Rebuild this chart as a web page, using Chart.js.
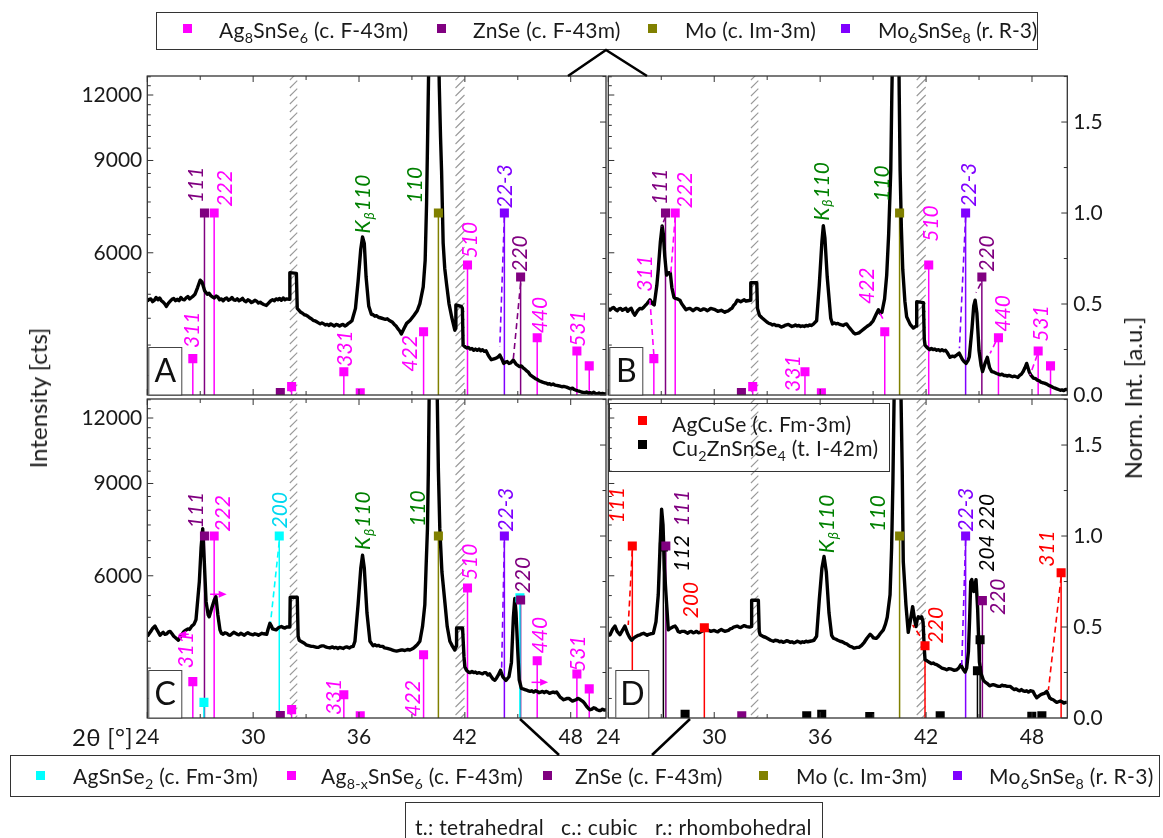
<!DOCTYPE html>
<html>
<head>
<meta charset="utf-8">
<script src="https://cdn.jsdelivr.net/npm/chart.js@4.4.1/dist/chart.umd.min.js"></script>
<style>
  html, body { margin: 0; padding: 0; background: #fff; }
  #page { position: relative; width: 1163px; height: 838px; overflow: hidden;
          font-family: Lato, "Open Sans", sans-serif; color: #1a1a1a; }
  canvas.panel { position: absolute; left: 0; top: 0; }
  .frame { position: absolute; border: 1.3px solid #333; box-sizing: border-box; }
  .lg { position: absolute; font-size: 21px; white-space: nowrap; line-height: 1; letter-spacing: 0.3px; }
  .lg sub { font-size: 0.68em; vertical-align: -0.35em; line-height: 0; }
  .sq { position: absolute; width: 9px; height: 9px; }
  .title { position: absolute; font-size: 24px; white-space: nowrap; line-height: 1;
           transform: translate(-50%, -50%) rotate(-90deg); }
  svg { position: absolute; left: 0; top: 0; }
</style>
</head>
<body>
<div id="page">
  <canvas class="panel" id="cA" width="1163" height="838"></canvas>
  <canvas class="panel" id="cB" width="1163" height="838"></canvas>
  <canvas class="panel" id="cC" width="1163" height="838"></canvas>
  <canvas class="panel" id="cD" width="1163" height="838"></canvas>

  <!-- phase legend above the panels -->
  <div class="frame" style="left:156px;top:12px;width:882px;height:38px;"></div>
  <div class="sq" style="left:183px;top:24px;background:#ff00ff"></div>
  <div class="lg" style="left:219px;top:19px">Ag<sub>8</sub>SnSe<sub>6</sub> (c. F-43m)</div>
  <div class="sq" style="left:437px;top:24px;background:#800080"></div>
  <div class="lg" style="left:473px;top:19px">ZnSe (c. F-43m)</div>
  <div class="sq" style="left:648px;top:24px;background:#808000"></div>
  <div class="lg" style="left:685px;top:19px">Mo (c. Im-3m)</div>
  <div class="sq" style="left:841px;top:24px;background:#8000ff"></div>
  <div class="lg" style="left:878px;top:19px;letter-spacing:0">Mo<sub>6</sub>SnSe<sub>8</sub> (r. R-3)</div>

  <!-- inset legend of panel D -->
  <div class="frame" style="left:609px;top:403px;width:281px;height:69px;border-width:1px"></div>
  <div class="sq" style="left:638px;top:416px;background:#ff0000"></div>
  <div class="lg" style="left:672px;top:413px">AgCuSe (c. Fm-3m)</div>
  <div class="sq" style="left:638px;top:440px;background:#000000"></div>
  <div class="lg" style="left:672px;top:437px">Cu<sub>2</sub>ZnSnSe<sub>4</sub> (t. I-42m)</div>

  <!-- phase legend below the panels -->
  <div class="frame" style="left:10px;top:755px;width:1150px;height:42px;"></div>
  <div class="sq" style="left:36px;top:771px;background:#00ffff"></div>
  <div class="lg" style="left:73px;top:765px">AgSnSe<sub>2</sub> (c. Fm-3m)</div>
  <div class="sq" style="left:287px;top:771px;background:#ff00ff"></div>
  <div class="lg" style="left:321px;top:765px">Ag<sub>8-x</sub>SnSe<sub>6</sub> (c. F-43m)</div>
  <div class="sq" style="left:543px;top:771px;background:#800080"></div>
  <div class="lg" style="left:575px;top:765px">ZnSe (c. F-43m)</div>
  <div class="sq" style="left:759px;top:771px;background:#808000"></div>
  <div class="lg" style="left:796px;top:765px">Mo (c. Im-3m)</div>
  <div class="sq" style="left:953px;top:771px;background:#8000ff"></div>
  <div class="lg" style="left:989px;top:765px">Mo<sub>6</sub>SnSe<sub>8</sub> (r. R-3)</div>

  <div class="frame" style="left:405px;top:802px;width:418px;height:50px;"></div>
  <div class="lg" style="left:415px;top:816px">t.: tetrahedral&nbsp;&nbsp; c.: cubic&nbsp;&nbsp; r.: rhombohedral</div>

  <!-- axis titles -->
  <div class="title" style="left:38px;top:398px">Intensity [cts]</div>
  <div class="title" style="left:1133px;top:398px">Norm. Int. [a.u.]</div>
  <div class="lg" style="left:72px;top:725px;font-size:24px">2θ [°]</div>

  <!-- callout wedges linking the legends to the panel grid -->
  <svg width="1163" height="838">
    <polyline points="568,76 606,50 647,76" fill="none" stroke="#000" stroke-width="2.5"/>
    <line x1="520" y1="719" x2="559" y2="755" stroke="#000" stroke-width="2.5"/>
    <line x1="690" y1="719" x2="652" y2="755" stroke="#000" stroke-width="2.5"/>
  </svg>
</div>

<script>
// ---------------- measured scans: [2θ (deg), intensity (cts)] ----------------
const scanA = [[24.0,4850],[24.1,4890],[24.2,4900],[24.3,4840],[24.4,4870],[24.5,4930],[24.6,4880],[24.7,4920],[24.8,4860],[24.9,4830],[25.0,4790],[25.08,4740],[25.2,4810],[25.3,4850],[25.4,4890],[25.5,4910],[25.6,4860],[25.7,4890],[25.8,4860],[25.9,4930],[26.0,4890],[26.1,4880],[26.2,4920],[26.3,4950],[26.4,4900],[26.5,4930],[26.6,4960],[26.7,5000],[26.85,5150],[27.0,5320],[27.1,5280],[27.25,5080],[27.4,5000],[27.5,5020],[27.6,4970],[27.7,4940],[27.8,4920],[27.9,4960],[28.0,4940],[28.1,4880],[28.2,4900],[28.3,4860],[28.4,4900],[28.5,4920],[28.6,4870],[28.7,4890],[28.8,4930],[28.9,4880],[29.0,4870],[29.1,4900],[29.2,4860],[29.3,4880],[29.4,4910],[29.5,4860],[29.6,4840],[29.7,4880],[29.8,4860],[29.9,4820],[30.0,4840],[30.1,4870],[30.2,4850],[30.3,4810],[30.4,4830],[30.5,4800],[30.6,4780],[30.75,4760],[30.9,4820],[31.0,4860],[31.1,4880],[31.2,4860],[31.3,4900],[31.4,4880],[31.5,4910],[31.6,4870],[31.7,4920],[31.8,4880],[31.9,4900],[32.05,4890],[32.08,5500],[32.45,5480],[32.5,4700],[32.6,4660],[32.7,4620],[32.8,4600],[32.9,4570],[33.0,4560],[33.1,4540],[33.2,4510],[33.3,4490],[33.4,4460],[33.5,4450],[33.6,4430],[33.7,4410],[33.8,4390],[33.9,4410],[34.0,4390],[34.1,4370],[34.2,4380],[34.3,4360],[34.4,4390],[34.5,4370],[34.6,4350],[34.7,4380],[34.8,4370],[34.9,4350],[35.0,4370],[35.1,4380],[35.2,4350],[35.3,4370],[35.4,4400],[35.5,4420],[35.6,4450],[35.8,4700],[35.95,5300],[36.1,6100],[36.2,6430],[36.3,6250],[36.4,5400],[36.55,4750],[36.7,4580],[36.8,4570],[36.9,4540],[37.0,4550],[37.1,4520],[37.2,4510],[37.3,4500],[37.4,4490],[37.5,4480],[37.6,4490],[37.7,4460],[37.8,4440],[37.9,4420],[38.0,4380],[38.1,4350],[38.2,4300],[38.3,4260],[38.4,4200],[38.55,4300],[38.7,4400],[38.9,4460],[39.1,4550],[39.3,4650],[39.45,4800],[39.64,5165],[39.75,5800],[39.83,7460],[39.9,10500],[39.97,15000],[40.05,22000],[40.15,35000],[40.25,40000],[40.35,33000],[40.45,20000],[40.55,12500],[40.62,10000],[40.68,8600],[40.77,6260],[40.86,5600],[40.96,5240],[41.1,4800],[41.25,4530],[41.43,4270],[41.47,4300],[41.49,4770],[41.8,4740],[41.86,4700],[41.9,4000],[42.0,3970],[42.1,3950],[42.2,3960],[42.3,3930],[42.4,3940],[42.5,3910],[42.6,3930],[42.7,3910],[42.8,3930],[42.9,3900],[43.0,3920],[43.1,3890],[43.2,3900],[43.3,3840],[43.4,3790],[43.5,3750],[43.6,3760],[43.7,3770],[43.8,3780],[43.9,3800],[43.98,3830],[44.1,3760],[44.2,3690],[44.3,3710],[44.4,3720],[44.5,3690],[44.6,3700],[44.74,3745],[44.9,3680],[45.0,3660],[45.1,3640],[45.2,3650],[45.3,3620],[45.4,3600],[45.5,3570],[45.6,3550],[45.7,3510],[45.8,3490],[45.9,3470],[46.0,3450],[46.1,3440],[46.2,3420],[46.3,3410],[46.4,3400],[46.5,3390],[46.6,3385],[46.7,3370],[46.8,3375],[46.9,3360],[47.0,3370],[47.1,3355],[47.2,3350],[47.3,3345],[47.4,3340],[47.5,3330],[47.6,3335],[47.76,3325],[47.9,3310],[48.0,3300],[48.1,3310],[48.2,3290],[48.3,3280],[48.4,3270],[48.5,3265],[48.6,3255],[48.7,3250],[48.8,3245],[48.9,3255],[49.0,3240],[49.1,3245],[49.2,3235],[49.3,3250],[49.4,3235],[49.5,3230],[49.6,3240],[49.7,3225],[49.8,3235],[49.9,3228],[50.0,3230]];

const scanB = [[24.0,4700],[24.1,4665],[24.2,4700],[24.3,4720],[24.4,4680],[24.5,4650],[24.6,4690],[24.7,4700],[24.8,4660],[24.9,4680],[25.0,4700],[25.1,4640],[25.2,4680],[25.3,4700],[25.4,4620],[25.5,4560],[25.6,4620],[25.65,4650],[25.8,4700],[25.9,4690],[26.0,4720],[26.1,4760],[26.2,4800],[26.36,4880],[26.5,4800],[26.6,4770],[26.75,5200],[26.83,5570],[26.95,6300],[27.05,6750],[27.12,6500],[27.2,5900],[27.3,5440],[27.42,5500],[27.51,5500],[27.6,5150],[27.72,4930],[27.8,4910],[27.9,4900],[28.0,4880],[28.06,4870],[28.15,4800],[28.25,4750],[28.4,4670],[28.5,4690],[28.6,4700],[28.7,4680],[28.8,4650],[28.9,4680],[29.0,4700],[29.1,4690],[29.2,4660],[29.3,4670],[29.4,4690],[29.5,4680],[29.6,4650],[29.7,4670],[29.8,4700],[29.9,4690],[30.0,4680],[30.1,4660],[30.2,4640],[30.3,4650],[30.4,4660],[30.5,4640],[30.6,4620],[30.7,4640],[30.8,4650],[30.9,4680],[31.0,4700],[31.1,4760],[31.2,4800],[31.3,4870],[31.4,4860],[31.5,4840],[31.6,4860],[31.7,4880],[31.8,4850],[31.9,4860],[32.05,4870],[32.07,5260],[32.41,5260],[32.45,4700],[32.56,4560],[32.7,4510],[32.8,4480],[32.9,4450],[33.0,4420],[33.1,4400],[33.2,4390],[33.3,4370],[33.4,4380],[33.5,4360],[33.6,4360],[33.7,4350],[33.8,4330],[33.9,4340],[34.0,4360],[34.1,4370],[34.2,4380],[34.3,4360],[34.4,4340],[34.5,4350],[34.6,4370],[34.7,4350],[34.8,4360],[34.9,4340],[35.0,4350],[35.1,4340],[35.2,4360],[35.3,4350],[35.4,4370],[35.5,4360],[35.6,4380],[35.8,4450],[35.95,5200],[36.1,6300],[36.18,6760],[36.27,6400],[36.4,5400],[36.6,4500],[36.7,4390],[36.8,4410],[36.9,4390],[37.0,4400],[37.1,4380],[37.2,4370],[37.3,4360],[37.4,4380],[37.5,4390],[37.6,4340],[37.7,4300],[37.8,4260],[37.9,4220],[37.98,4200],[38.1,4210],[38.2,4220],[38.35,4260],[38.5,4300],[38.65,4340],[38.83,4380],[39.0,4450],[39.2,4600],[39.3,4670],[39.4,4600],[39.5,4620],[39.65,4900],[39.77,5440],[39.88,6500],[40.0,8600],[40.06,12000],[40.15,18000],[40.25,30000],[40.3,35000],[40.35,30000],[40.43,18000],[40.48,12000],[40.53,8600],[40.6,6700],[40.68,5570],[40.8,4850],[40.9,4530],[41.1,4380],[41.28,4310],[41.45,4350],[41.47,4840],[41.85,4820],[41.9,4100],[41.94,4000],[42.05,3960],[42.2,3920],[42.3,3940],[42.4,3920],[42.5,3930],[42.6,3910],[42.7,3920],[42.8,3900],[42.9,3920],[43.0,3900],[43.1,3910],[43.2,3870],[43.36,3790],[43.5,3810],[43.6,3800],[43.75,3830],[43.88,3860],[44.05,3760],[44.15,3720],[44.27,3690],[44.38,3740],[44.45,3800],[44.6,4300],[44.7,4750],[44.78,4870],[44.88,4600],[45.0,3900],[45.12,3650],[45.2,3560],[45.35,3700],[45.47,3790],[45.6,3620],[45.72,3560],[45.85,3550],[46.0,3530],[46.1,3520],[46.2,3510],[46.3,3520],[46.4,3500],[46.5,3500],[46.6,3490],[46.7,3500],[46.8,3490],[46.9,3480],[47.0,3490],[47.1,3480],[47.2,3470],[47.3,3500],[47.4,3520],[47.5,3560],[47.6,3620],[47.7,3690],[47.85,3550],[47.95,3500],[48.08,3460],[48.2,3450],[48.3,3430],[48.4,3420],[48.5,3400],[48.6,3390],[48.7,3385],[48.84,3370],[48.95,3350],[49.05,3340],[49.2,3320],[49.3,3310],[49.4,3300],[49.5,3290],[49.6,3280],[49.7,3285],[49.8,3275],[49.9,3290],[50.0,3290]];

const scanC = [[24.0,4600],[24.1,4650],[24.2,4700],[24.3,4760],[24.44,4810],[24.5,4760],[24.6,4700],[24.72,4620],[24.8,4650],[24.9,4680],[25.0,4640],[25.1,4650],[25.2,4690],[25.29,4700],[25.4,4650],[25.5,4600],[25.6,4570],[25.76,4520],[25.9,4600],[26.04,4680],[26.15,4720],[26.3,4750],[26.4,4740],[26.52,4810],[26.65,4850],[26.76,4950],[26.95,5850],[27.05,6800],[27.14,7380],[27.22,6500],[27.33,5360],[27.45,5050],[27.51,5010],[27.65,5200],[27.8,5400],[27.89,5470],[28.0,5050],[28.12,4730],[28.2,4660],[28.3,4640],[28.4,4670],[28.5,4660],[28.6,4630],[28.7,4620],[28.8,4650],[28.9,4680],[29.0,4660],[29.1,4640],[29.2,4630],[29.3,4660],[29.4,4640],[29.5,4620],[29.6,4650],[29.7,4670],[29.8,4650],[29.9,4640],[30.0,4630],[30.1,4650],[30.2,4640],[30.3,4620],[30.4,4640],[30.5,4660],[30.6,4650],[30.77,4640],[30.85,4750],[30.95,4870],[31.05,4800],[31.1,4750],[31.2,4740],[31.3,4730],[31.45,4780],[31.6,4800],[31.7,4780],[31.8,4770],[31.9,4790],[32.0,4790],[32.08,4790],[32.1,5460],[32.5,5460],[32.55,4600],[32.61,4520],[32.7,4500],[32.8,4480],[32.9,4460],[33.0,4430],[33.1,4420],[33.2,4410],[33.3,4400],[33.4,4400],[33.5,4390],[33.6,4380],[33.7,4380],[33.8,4400],[33.9,4410],[34.0,4410],[34.1,4390],[34.2,4380],[34.35,4370],[34.5,4390],[34.6,4370],[34.7,4380],[34.8,4360],[34.9,4380],[35.0,4370],[35.1,4360],[35.2,4380],[35.3,4390],[35.45,4370],[35.55,4390],[35.67,4400],[35.77,4500],[35.95,5300],[36.1,6200],[36.2,6570],[36.3,6200],[36.45,5100],[36.62,4500],[36.8,4410],[36.9,4430],[37.0,4410],[37.1,4420],[37.2,4400],[37.35,4400],[37.45,4370],[37.6,4360],[37.7,4350],[37.8,4340],[37.9,4330],[38.0,4320],[38.13,4310],[38.25,4320],[38.4,4330],[38.5,4330],[38.6,4320],[38.75,4340],[38.88,4330],[39.0,4350],[39.1,4370],[39.2,4400],[39.3,4430],[39.45,4500],[39.6,4800],[39.73,5280],[39.8,6200],[39.88,7380],[39.93,9500],[39.98,13500],[40.05,20000],[40.15,32000],[40.22,36000],[40.3,32000],[40.38,20000],[40.43,13500],[40.5,9500],[40.58,7380],[40.7,6100],[40.87,5330],[41.0,4800],[41.15,4500],[41.3,4400],[41.43,4330],[41.5,4400],[41.53,4770],[41.87,4770],[41.95,4200],[42.0,4020],[42.1,3960],[42.2,3930],[42.28,3920],[42.4,3940],[42.5,3920],[42.6,3930],[42.7,3910],[42.8,3920],[42.9,3910],[43.0,3900],[43.1,3920],[43.2,3920],[43.3,3880],[43.4,3900],[43.5,3850],[43.6,3810],[43.7,3790],[43.8,3830],[43.9,3880],[44.02,3960],[44.15,3850],[44.33,3790],[44.5,3850],[44.64,4100],[44.75,5000],[44.83,5430],[44.9,5100],[45.0,4300],[45.08,3800],[45.2,3660],[45.3,3650],[45.4,3640],[45.5,3630],[45.6,3620],[45.7,3610],[45.8,3620],[45.9,3600],[46.0,3620],[46.1,3610],[46.2,3590],[46.3,3600],[46.4,3610],[46.5,3590],[46.6,3610],[46.7,3600],[46.8,3580],[46.9,3590],[47.0,3600],[47.1,3590],[47.2,3600],[47.3,3560],[47.4,3520],[47.5,3500],[47.6,3480],[47.7,3490],[47.8,3500],[47.9,3500],[48.0,3480],[48.1,3460],[48.2,3470],[48.3,3480],[48.4,3500],[48.5,3490],[48.6,3470],[48.7,3450],[48.8,3420],[48.9,3380],[49.0,3350],[49.1,3330],[49.2,3340],[49.3,3360],[49.4,3350],[49.5,3330],[49.6,3320],[49.7,3320],[49.8,3340],[49.9,3325],[50.0,3330]];

const scanD = [[24.0,4620],[24.1,4630],[24.25,4750],[24.38,4810],[24.5,4700],[24.66,4630],[24.8,4720],[24.94,4810],[25.1,4650],[25.2,4580],[25.32,4520],[25.4,4550],[25.5,4580],[25.6,4600],[25.7,4620],[25.8,4630],[25.9,4650],[26.0,4660],[26.1,4640],[26.2,4620],[26.3,4640],[26.4,4650],[26.55,4660],[26.7,4900],[26.83,5520],[26.93,6800],[27.02,8040],[27.1,7500],[27.18,6200],[27.27,5520],[27.4,4730],[27.5,4760],[27.6,4780],[27.7,4800],[27.78,4810],[27.88,4760],[27.95,4700],[28.06,4680],[28.15,4700],[28.3,4700],[28.4,4680],[28.5,4660],[28.6,4690],[28.7,4700],[28.8,4670],[28.9,4680],[29.0,4700],[29.1,4670],[29.2,4680],[29.3,4700],[29.4,4720],[29.5,4740],[29.6,4740],[29.7,4720],[29.8,4700],[29.9,4710],[30.0,4720],[30.1,4700],[30.2,4690],[30.3,4720],[30.4,4740],[30.5,4720],[30.6,4700],[30.7,4710],[30.8,4720],[30.9,4750],[31.0,4760],[31.1,4790],[31.2,4800],[31.3,4810],[31.4,4790],[31.5,4780],[31.6,4800],[31.7,4820],[31.84,4800],[32.0,4790],[32.1,4800],[32.12,5390],[32.5,5390],[32.55,4700],[32.6,4630],[32.7,4610],[32.8,4590],[32.9,4580],[33.0,4560],[33.1,4540],[33.2,4520],[33.35,4500],[33.45,4520],[33.6,4510],[33.7,4490],[33.8,4500],[33.9,4480],[34.0,4490],[34.1,4510],[34.2,4500],[34.3,4480],[34.4,4490],[34.5,4470],[34.6,4480],[34.7,4500],[34.8,4490],[34.9,4470],[35.0,4490],[35.1,4480],[35.2,4500],[35.3,4490],[35.43,4500],[35.55,4510],[35.65,4520],[35.8,4600],[35.95,5400],[36.1,6200],[36.22,6530],[36.35,6100],[36.5,5100],[36.65,4620],[36.75,4560],[36.9,4540],[37.0,4520],[37.13,4500],[37.25,4490],[37.4,4460],[37.5,4450],[37.6,4420],[37.7,4400],[37.8,4390],[37.9,4370],[37.98,4370],[38.1,4380],[38.2,4380],[38.35,4420],[38.5,4480],[38.65,4560],[38.83,4640],[38.95,4600],[39.0,4570],[39.1,4560],[39.2,4560],[39.3,4600],[39.4,4650],[39.58,4730],[39.7,4850],[39.8,5000],[39.96,5520],[40.05,6800],[40.12,9000],[40.18,12500],[40.25,18000],[40.35,25000],[40.45,24000],[40.53,17000],[40.6,12000],[40.65,9500],[40.71,6380],[40.86,5280],[40.99,4680],[41.1,4900],[41.24,5240],[41.35,4950],[41.43,4800],[41.5,4950],[41.56,5010],[41.66,4980],[41.75,5010],[41.83,4900],[41.9,4350],[41.94,4150],[42.0,4140],[42.1,4120],[42.2,4100],[42.3,4080],[42.4,4090],[42.5,4070],[42.6,4060],[42.7,4040],[42.8,4020],[42.9,4000],[43.0,3990],[43.1,3980],[43.17,3970],[43.3,3990],[43.45,3980],[43.6,3960],[43.74,3970],[43.85,4000],[43.97,4060],[44.1,3980],[44.21,3930],[44.3,4000],[44.4,4300],[44.47,5000],[44.53,5850],[44.59,5900],[44.65,5750],[44.7,5600],[44.77,5750],[44.83,5900],[44.92,5200],[45.02,4110],[45.12,3900],[45.25,3790],[45.35,3760],[45.45,3740],[45.6,3700],[45.7,3710],[45.8,3720],[45.9,3710],[46.0,3700],[46.1,3690],[46.2,3690],[46.3,3710],[46.4,3700],[46.5,3700],[46.6,3690],[46.76,3690],[46.9,3660],[47.0,3640],[47.1,3650],[47.2,3630],[47.3,3620],[47.4,3640],[47.5,3620],[47.6,3610],[47.7,3620],[47.8,3600],[47.9,3620],[48.06,3610],[48.15,3560],[48.27,3510],[48.4,3540],[48.5,3560],[48.6,3570],[48.7,3580],[48.84,3610],[48.92,3560],[49.0,3510],[49.1,3490],[49.2,3480],[49.3,3460],[49.4,3440],[49.5,3450],[49.6,3460],[49.7,3450],[49.8,3430],[49.9,3440],[49.97,3440]];

// ---------------- reference patterns: [2θ (deg), normalized intensity] ----------------
const ag8SnSe6Ref  = [[26.58,0.20],[27.79,1.0],[32.18,0.046],[35.14,0.128],[36.07,0.012],[39.66,0.348],[42.15,0.714],[46.10,0.315],[48.35,0.242],[49.05,0.16]];
const znSeRef      = [[27.24,1.0],[31.54,0.013],[45.16,0.648]];
const znSeRefD     = [[27.26,0.945],[31.56,0.012],[45.19,0.645]];
const moRef        = [[40.50,1.0]];
const mo6SnSe8Ref  = [[44.24,1.0]];
const agSnSe2Ref   = [[27.21,0.086],[31.48,1.0],[45.12,0.66]];
const agCuSeRef    = [[25.36,0.945],[29.44,0.496],[41.94,0.397],[49.65,0.798]];
const cztseRef     = [[27.12,0.94],[28.35,0.02],[35.24,0.012],[36.09,0.02],[38.81,0.008],[42.80,0.012],[44.91,0.26],[45.06,0.43],[47.99,0.01],[48.56,0.012]];

// ---------------- reflection labels: [text, phase, 2θ, normalized height of text start] ----------------
const labelsA = [['311','ag8',26.52,0.258],['111','znse',26.80,1.055],['222','ag8',28.44,1.035],['331','ag8',35.2,0.155],['Kβ110','green',36.24,0.888],['422','ag8',38.88,0.128],['110','green',39.17,1.053],['510','ag8',42.32,0.751],['22-3','mo6',44.31,1.026],['220','znse',45.16,0.677],['440','ag8',46.25,0.339],['531','ag8',48.42,0.265]];
const labelsB = [['311','ag8',26.08,0.568],['111','znse',26.93,1.044],['222','ag8',28.35,1.026],['331','ag8',34.5,0.018],['Kβ110','green',36.1,0.957],['422','ag8',38.66,0.5],['110','green',39.49,1.062],['510','ag8',42.27,0.842],['22-3','mo6',44.44,1.035],['220','znse',45.44,0.677],['440','ag8',46.35,0.348],['531','ag8',48.55,0.293]];
const labelsC = [['311','ag8',26.23,0.273],['111','znse',26.8,1.042],['222','ag8',28.31,1.024],['200','agsnse2',31.52,1.042],['331','ag8',34.57,0.016],['Kβ110','green',36.24,0.923],['422','ag8',39.07,0.007],['110','green',39.35,1.051],['510','ag8',42.32,0.758],['22-3','mo6',44.36,1.024],['220','znse',45.3,0.685],['440','ag8',46.29,0.355],['531','ag8',48.42,0.254]];
const labelsD = [['111','agcuse',24.48,1.07],['111','znse',28.16,1.053],['112','czts',28.16,0.804],['200','agcuse',28.67,0.548],['Kβ110','green',36.41,0.905],['110','green',39.3,1.024],['220','agcuse',42.55,0.41],['22-3','mo6',44.3,1.024],['204 220','czts',45.48,0.804],['220','znse',46.1,0.566],['311','agcuse',48.84,0.831]];

// dashed assignment guides: [phase, 2θ1, n1, 2θ2, n2]
const guidesA = [['mo6',44.24,0.98,43.98,0.265],['znse',45.16,0.614,44.74,0.192]];
const guidesB = [['ag8',26.58,0.22,26.36,0.522],['znse',27.24,0.98,27.02,0.925],['ag8',27.79,0.98,27.54,0.669],['ag8',39.39,0.449,39.66,0.40],['mo6',44.24,0.98,43.89,0.257],['znse',45.1,0.614,44.83,0.562],['ag8',45.95,0.293,45.63,0.229],['ag8',48.3,0.22,47.89,0.11]];
const guidesC = [['agsnse2',31.48,0.969,30.99,0.529],['mo6',44.24,0.969,44.08,0.254]];
const guidesD = [['agcuse',25.36,0.92,25.13,0.511],['agcuse',41.65,0.452,41.24,0.511],['mo6',44.24,0.978,44.02,0.291],['agcuse',49.65,0.775,48.93,0.154]];

// peak-shift arrows: [phase, 2θ from, 2θ to, n]
const arrowsC = [['ag8',26.35,25.75,0.46],['ag8',27.56,28.5,0.68],['ag8',45.78,46.72,0.196]];

// masked detector-gap ranges (2θ)
const maskedRanges = [[32.08,32.5],[41.47,41.98]];

// axis ticks
const twoThetaTicks = [24,27,30,33,36,39,42,45,48];
const twoThetaLabels = [24,30,36,42,48];
const countTicks = [6000,9000,12000];
const countMinorTicks = [3500,4000,4500,5000,5500,6500,7000,7500,8000,8500,9500,10000,10500,11000,11500,12500,13000];
const normTicks = [0,0.5,1.0,1.5];
const normMinorTicks = [0.25,0.75,1.25,1.75];

// ---------------- styling ----------------
const PHASE = {
  ag8:     { color: '#ff00ff' },
  znse:    { color: '#800080' },
  mo:      { color: '#808000' },
  mo6:     { color: '#8000ff' },
  agsnse2: { color: '#00ffff', text: '#00d8f0' },
  agcuse:  { color: '#ff0000' },
  czts:    { color: '#000000' },
  green:   { color: '#008000' }
};
const FONT = 'Lato, "Open Sans", sans-serif';

const PANELS = [
  { id:'cA', letter:'A', box:{l:147.3,t:76,r:606,b:395}, scan:scanA,
    phases:[['ag8',ag8SnSe6Ref],['znse',znSeRef],['mo',moRef],['mo6',mo6SnSe8Ref]],
    labels:labelsA, guides:guidesA, arrows:[], left:true, right:false, bottom:false, letterOff:1 },
  { id:'cB', letter:'B', box:{l:608.3,t:76,r:1067.3,b:395}, scan:scanB,
    phases:[['ag8',ag8SnSe6Ref],['znse',znSeRef],['mo',moRef],['mo6',mo6SnSe8Ref]],
    labels:labelsB, guides:guidesB, arrows:[], left:false, right:true, bottom:false, letterOff:1 },
  { id:'cC', letter:'C', box:{l:147.3,t:399,r:606,b:718}, scan:scanC,
    phases:[['agsnse2',agSnSe2Ref],['ag8',ag8SnSe6Ref],['znse',znSeRef],['mo',moRef],['mo6',mo6SnSe8Ref]],
    labels:labelsC, guides:guidesC, arrows:arrowsC, left:true, right:false, bottom:true, letterOff:1 },
  { id:'cD', letter:'D', box:{l:608.3,t:399,r:1067.3,b:718}, scan:scanD,
    phases:[['czts',cztseRef],['agcuse',agCuSeRef],['znse',znSeRefD],['mo',moRef],['mo6',mo6SnSe8Ref]],
    labels:labelsD, guides:guidesD, arrows:[], left:false, right:true, bottom:true, letterOff:7 }
];

function drawRotLabel(ctx, text, px, py, color) {
  ctx.save();
  ctx.translate(px, py);
  ctx.rotate(-Math.PI / 2);
  ctx.fillStyle = color;
  ctx.textBaseline = 'middle';
  ctx.textAlign = 'left';
  if (text.startsWith('Kβ')) {
    ctx.font = 'italic 21px ' + FONT;
    ctx.fillText('K', 0, 0);
    let w = ctx.measureText('K').width;
    ctx.font = 'italic 14px ' + FONT;
    ctx.fillText('β', w + 1, 6);
    w += ctx.measureText('β').width + 2;
    ctx.font = 'italic 21px ' + FONT;
    ctx.fillText(text.slice(2), w, 0);
  } else {
    ctx.font = 'italic 21px ' + FONT;
    ctx.fillText(text, 0, 0);
  }
  ctx.restore();
}

const decor = {
  id: 'decor',
  beforeDatasetsDraw(chart) {
    const { ctx, chartArea: a, scales: { x } } = chart;
    ctx.save();
    ctx.beginPath();
    ctx.rect(a.left, a.top, a.right - a.left, a.bottom - a.top);
    ctx.clip();
    ctx.strokeStyle = '#9a9a9a';
    ctx.lineWidth = 1.1;
    for (const [r0, r1] of maskedRanges) {
      const p0 = x.getPixelForValue(r0), p1 = x.getPixelForValue(r1);
      ctx.beginPath();
      for (let y = a.bottom + 12; y > a.top - 12; y -= 8) {
        ctx.moveTo(p0, y + 1);
        ctx.lineTo(p1, y + 1 - (p1 - p0));
      }
      ctx.stroke();
    }
    ctx.restore();
  },
  afterDatasetsDraw(chart, args, opts) {
    const P = opts.panel;
    const { ctx, chartArea: a, scales: { x, y, n } } = chart;
    ctx.save();
    // guides
    ctx.setLineDash([6, 4]);
    ctx.lineWidth = 1.6;
    for (const [ph, x1, n1, x2, n2] of P.guides) {
      ctx.strokeStyle = PHASE[ph].color;
      ctx.beginPath();
      ctx.moveTo(x.getPixelForValue(x1), n.getPixelForValue(n1));
      ctx.lineTo(x.getPixelForValue(x2), n.getPixelForValue(n2));
      ctx.stroke();
    }
    ctx.setLineDash([]);
    // arrows
    for (const [ph, x1, x2, nv] of P.arrows) {
      const X1 = x.getPixelForValue(x1), X2 = x.getPixelForValue(x2), Y = n.getPixelForValue(nv);
      const dir = Math.sign(X2 - X1);
      ctx.strokeStyle = ctx.fillStyle = PHASE[ph].color;
      ctx.lineWidth = 1.5;
      ctx.beginPath(); ctx.moveTo(X1, Y); ctx.lineTo(X2 - dir * 5, Y); ctx.stroke();
      ctx.beginPath(); ctx.moveTo(X2, Y); ctx.lineTo(X2 - dir * 8, Y - 3.5); ctx.lineTo(X2 - dir * 8, Y + 3.5); ctx.closePath(); ctx.fill();
    }
    // reflection labels
    for (const [txt, ph, tt, nv] of P.labels) {
      drawRotLabel(ctx, txt, x.getPixelForValue(tt), n.getPixelForValue(nv), PHASE[ph].text || PHASE[ph].color);
    }
    // frame
    ctx.strokeStyle = '#333';
    ctx.lineWidth = 1.3;
    ctx.strokeRect(a.left, a.top, a.right - a.left, a.bottom - a.top);
    // ticks
    ctx.lineWidth = 1;
    ctx.beginPath();
    for (const t of twoThetaTicks) {
      const px = x.getPixelForValue(t), len = (t % 6 === 0) ? 6 : 4;
      ctx.moveTo(px, a.bottom); ctx.lineTo(px, a.bottom - len);
      ctx.moveTo(px, a.top); ctx.lineTo(px, a.top + len);
    }
    for (const t of countTicks) { const py = y.getPixelForValue(t); ctx.moveTo(a.left, py); ctx.lineTo(a.left + 6, py); }
    for (const t of countMinorTicks) { const py = y.getPixelForValue(t); ctx.moveTo(a.left, py); ctx.lineTo(a.left + 3.5, py); }
    for (const t of normTicks) { const py = n.getPixelForValue(t); ctx.moveTo(a.right, py); ctx.lineTo(a.right - 6, py); }
    for (const t of normMinorTicks) { const py = n.getPixelForValue(t); ctx.moveTo(a.right, py); ctx.lineTo(a.right - 3.5, py); }
    ctx.stroke();
    // tick labels
    ctx.fillStyle = '#1a1a1a';
    ctx.font = '21px ' + FONT;
    ctx.textBaseline = 'middle';
    if (P.left) {
      ctx.textAlign = 'right';
      for (const t of countTicks) ctx.fillText(String(t), a.left - 5, y.getPixelForValue(t));
    }
    if (P.right) {
      ctx.textAlign = 'left';
      for (const t of normTicks) ctx.fillText(t.toFixed(1), a.right + 6, n.getPixelForValue(t));
    }
    if (P.bottom) {
      ctx.textAlign = 'center';
      for (const t of twoThetaLabels) ctx.fillText(String(t), x.getPixelForValue(t), a.bottom + 19);
    }
    // panel letter
    const bx = a.left + P.letterOff, bw = 33, bh = 48;
    ctx.fillStyle = '#fff';
    ctx.fillRect(bx, a.bottom - bh, bw, bh);
    ctx.strokeStyle = '#444';
    ctx.lineWidth = 1;
    ctx.strokeRect(bx + 0.5, a.bottom - bh + 0.5, bw, bh - 0.5);
    ctx.fillStyle = '#111';
    ctx.font = '32px ' + FONT;
    ctx.textAlign = 'center';
    ctx.fillText(P.letter, bx + bw / 2 + 0.5, a.bottom - bh / 2 + 1);
    ctx.restore();
  }
};

function stickData(ref) {
  const out = [];
  for (const [t, v] of ref) { out.push({ x: t, y: 0 }, { x: t, y: v }, { x: t, y: null }); }
  return out;
}

for (const P of PANELS) {
  const datasets = [];
  datasets.push({
    type: 'line', data: P.scan.map(([t, c]) => ({ x: t, y: c })), yAxisID: 'y',
    borderColor: '#000', borderWidth: 3.4, pointRadius: 0, tension: 0,
    borderJoinStyle: 'round', order: 20
  });
  P.phases.forEach(([ph, ref], k) => {
    datasets.push({
      type: 'line', data: stickData(ref), yAxisID: 'n', spanGaps: false,
      borderColor: PHASE[ph].color, borderWidth: 1.5, pointRadius: 0, order: 30 + k
    });
    datasets.push({
      type: 'line', data: ref.map(([t, v]) => ({ x: t, y: v })), yAxisID: 'n', showLine: false,
      pointStyle: 'rect', pointRadius: 6.4, pointBorderWidth: 0,
      pointBackgroundColor: PHASE[ph].color, order: 10 - k
    });
  });
  new Chart(document.getElementById(P.id), {
    type: 'line',
    data: { datasets },
    options: {
      responsive: false, animation: false, devicePixelRatio: 1,
      layout: { padding: { left: P.box.l, top: P.box.t, right: 1163 - P.box.r, bottom: 838 - P.box.b } },
      plugins: { legend: { display: false }, tooltip: { enabled: false }, decor: { panel: P } },
      events: [],
      scales: {
        x: { type: 'linear', min: 24, max: 50, display: false },
        y: { type: 'logarithmic', min: 3212, max: 13045, display: false },
        n: { type: 'linear', min: 0, max: 1.753, display: false, position: 'right' }
      }
    },
    plugins: [decor]
  });
}
</script>
</body>
</html>
